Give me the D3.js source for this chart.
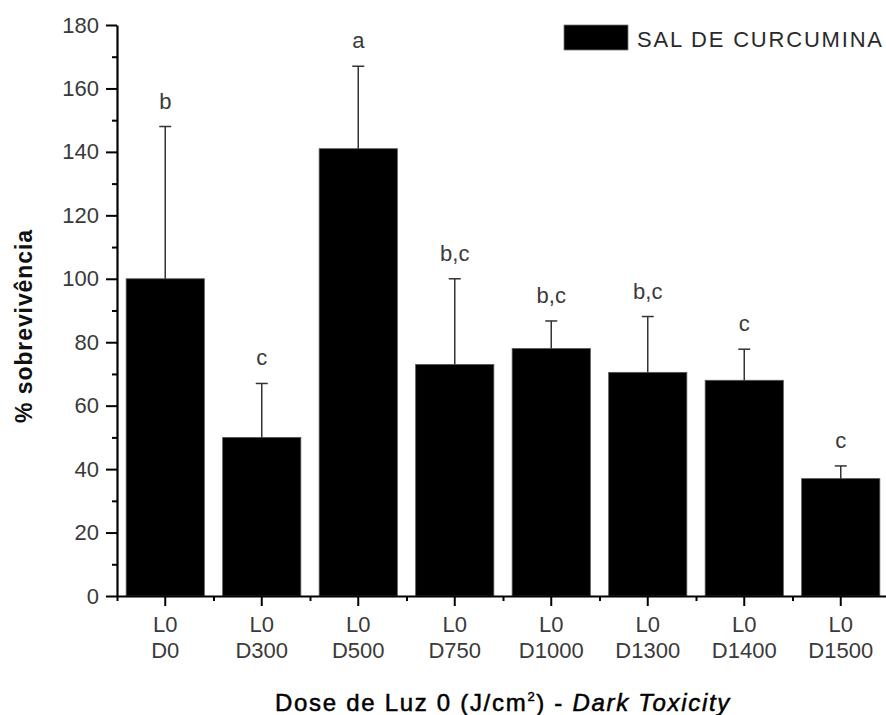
<!DOCTYPE html>
<html>
<head>
<meta charset="utf-8">
<script src="https://cdn.jsdelivr.net/npm/d3@7/dist/d3.min.js"></script>
<style>
  html, body { margin: 0; padding: 0; background: #fff; }
  svg { display: block; font-family: "Liberation Sans", Arial, sans-serif; }
</style>
</head>
<body>
<svg id="chart" width="886" height="715"></svg>
<script>
// ---- data ----
const lightLabels = ["L0", "L0", "L0", "L0", "L0", "L0", "L0", "L0"];
const doseLabels = ["D0", "D300", "D500", "D750", "D1000", "D1300", "D1400", "D1500"];
const survival = [100, 50, 141, 73, 78, 70.5, 68, 37];
const errorUp = [48, 17, 26, 27, 8.7, 17.6, 9.8, 4];
const letters = ["b", "c", "a", "b,c", "b,c", "b,c", "c", "c"];
const yMajorTicks = [0, 20, 40, 60, 80, 100, 120, 140, 160, 180];
const yMinorTicks = [10, 30, 50, 70, 90, 110, 130, 150, 170];
const seriesName = "SAL DE CURCUMINA";

(function () {
const svg = d3.select("#chart");
const mLeft = 117, mRight = 889, mTop = 25, mBottom = 596;

const x = d3.scaleBand().domain(doseLabels).range([mLeft, mRight])
  .paddingInner(0.19).paddingOuter(0.095);
const xEdges = d3.scaleLinear().domain([0, doseLabels.length]).range([mLeft, mRight]);
const y = d3.scaleLinear().domain([0, 180]).range([mBottom, mTop]);

// bars
svg.append("g").selectAll("rect").data(survival).join("rect")
  .attr("x", (d, i) => x(doseLabels[i]))
  .attr("width", x.bandwidth())
  .attr("y", d => y(d))
  .attr("height", d => y(0) - y(d))
  .attr("fill", "#000")
  .attr("stroke", "#555")
  .attr("stroke-width", 0.8);

// error bars (upper only)
const eb = svg.append("g").attr("stroke", "#333").attr("stroke-width", 1.5);
survival.forEach((v, i) => {
  const cx = x(doseLabels[i]) + x.bandwidth() / 2;
  eb.append("line").attr("x1", cx).attr("x2", cx).attr("y1", y(v)).attr("y2", y(v + errorUp[i]));
  eb.append("line").attr("x1", cx - 6).attr("x2", cx + 6).attr("y1", y(v + errorUp[i])).attr("y2", y(v + errorUp[i]));
});

// significance letters
svg.append("g").selectAll("text").data(letters).join("text")
  .attr("x", (d, i) => x(doseLabels[i]) + x.bandwidth() / 2)
  .attr("y", (d, i) => y(survival[i] + errorUp[i]) - 18)
  .attr("text-anchor", "middle")
  .attr("font-size", 22)
  .attr("fill", "#3a3a3a")
  .text(d => d);

// y axis
const yAxisG = svg.append("g").attr("transform", `translate(${mLeft},0)`);
yAxisG.call(d3.axisLeft(y).tickValues(yMajorTicks).tickSize(11).tickSizeOuter(0).tickPadding(7));
const yMinorG = svg.append("g").attr("transform", `translate(${mLeft},0)`);
yMinorG.call(d3.axisLeft(y).tickValues(yMinorTicks).tickSize(5).tickSizeOuter(0).tickFormat(""));
yMinorG.select(".domain").remove();

// x axis
const xAxisG = svg.append("g").attr("transform", `translate(0,${mBottom})`);
xAxisG.call(d3.axisBottom(x).tickSize(10).tickSizeOuter(0).tickPadding(12));
const xMinorG = svg.append("g").attr("transform", `translate(0,${mBottom})`);
xMinorG.call(d3.axisBottom(xEdges).tickValues(d3.range(doseLabels.length + 1)).tickSize(5).tickSizeOuter(0).tickFormat(""));
xMinorG.select(".domain").remove();

// two-line x tick labels
xAxisG.selectAll(".tick text").each(function(d, i) {
  const t = d3.select(this);
  t.text(null).attr("dy", null).attr("y", 0);
  t.append("tspan").attr("x", 0).attr("y", 36).text(lightLabels[i]);
  t.append("tspan").attr("x", 0).attr("y", 62).text(d);
});

svg.selectAll(".domain").attr("stroke", "#000").attr("stroke-width", 2.2);
svg.selectAll(".tick line").attr("stroke", "#000").attr("stroke-width", 2);
svg.selectAll(".tick text").attr("font-size", 22).attr("fill", "#3a3a3a")
  .attr("font-family", "'Liberation Sans', Arial, sans-serif");

// axis titles
svg.append("text")
  .attr("transform", `translate(32,326) rotate(-90)`)
  .attr("text-anchor", "middle")
  .attr("font-size", 23)
  .attr("font-weight", "bold")
  .attr("letter-spacing", 0.9)
  .attr("fill", "#111")
  .text("% sobrevivência");

const xt = svg.append("text")
  .attr("x", 503).attr("y", 711)
  .attr("text-anchor", "middle")
  .attr("font-size", 24)
  .attr("letter-spacing", 1.7)
  .attr("stroke", "#000")
  .attr("stroke-width", 0.5)
  .attr("fill", "#000");
xt.append("tspan").text("Dose de Luz 0 (J/cm");
xt.append("tspan").attr("font-size", 13).attr("dy", -10).text("2");
xt.append("tspan").attr("dy", 10).text(") - ");
xt.append("tspan").attr("font-style", "italic").text("Dark Toxicity");

// legend
const lg = svg.append("g");
lg.append("rect").attr("x", 564).attr("y", 25).attr("width", 64).attr("height", 25)
  .attr("fill", "#000").attr("stroke", "#777").attr("stroke-width", 0.8);
lg.append("text").attr("x", 637).attr("y", 47)
  .attr("font-size", 22).attr("letter-spacing", 1.8).attr("fill", "#2a2a2a")
  .text(seriesName);
})();
</script>
</body>
</html>
